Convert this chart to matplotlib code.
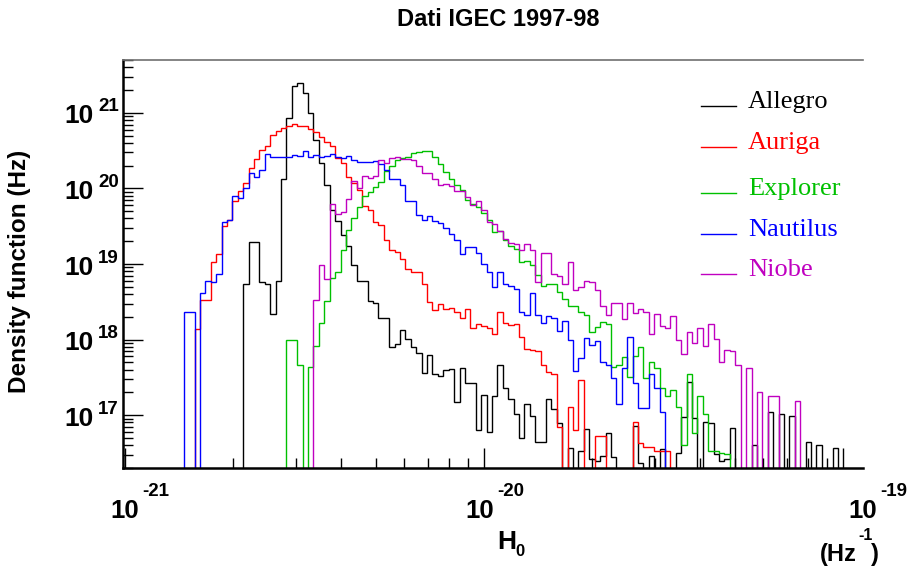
import numpy as np
import matplotlib
matplotlib.use("Agg")
import matplotlib.pyplot as plt
from matplotlib.ticker import LogLocator, NullFormatter

# ---------------- data ----------------
# histogram binning in log10(H0 / Hz^-1)
log_edge0 = -21.0022
log_bin_width = 0.015064
n_bins = 137

# bin contents given as log10(density / Hz); None = empty bin
allegro_start = 22
allegro_log = [18.74, 19.29, 19.29, 18.76, 18.74, 18.34, 18.77, 20.13, 20.93, 21.35,
               21.40, 21.26, 21.00, 20.64, 20.34, 20.05, 19.72, 19.57, 19.39, 19.24,
               18.99, 18.78, 18.78, 18.51, 18.48, 18.29, 18.29, 17.90, 17.94, 18.13,
               18.01, 17.90, 17.82, 17.56, 17.79, 17.54, 17.52, 17.60, 17.61, 17.17,
               17.63, 17.43, 17.43, 16.81, 17.27, 16.78, 17.25, 17.66, 17.36, 17.21,
               17.01, 16.70, 17.15, 16.99, 16.64, 16.64, 17.22, 17.08, 16.89, None,
               16.56, None, 16.53, 16.82, 16.42, 16.40, 16.46, 16.77, 16.44, None,
               None, None, 16.86, 16.37, None, 16.46, None, 16.55, None, None,
               16.50, 16.97, 17.44, 16.96, None, 16.91, 16.90, 16.49, 16.39, 16.42,
               16.83, None, None, None, 16.60, None, None, 17.04, None, 17.01,
               None, 16.99, None, None, 16.64, None, 16.60, None, None, 16.56]

auriga_start = 13
auriga_log = [18.14, 18.52, 18.52, 19.03, 19.13, 19.50, 19.58, 19.83, 19.97, 20.07,
              20.27, 20.39, 20.51, 20.56, 20.71, 20.76, 20.80, 20.82, 20.85, 20.83,
              20.83, 20.78, 20.74, 20.68, 20.62, 20.56, 20.40, 20.34, 20.15, 20.07,
              19.98, 19.77, 19.71, 19.55, 19.52, 19.32, 19.19, 19.16, 19.06, 18.93,
              18.89, 18.89, 18.74, 18.50, 18.39, 18.47, 18.41, 18.42, 18.37, 18.29,
              18.40, 18.15, 18.20, 18.18, 18.15, 18.07, 18.36, 18.22, 18.19, 18.20,
              18.04, 17.88, 17.86, 17.85, 17.66, 17.57, 17.55, 16.85, None, 17.11,
              16.80, 17.47, None, None, 16.72, 16.72, None, None, None, None,
              None, 16.91, 16.63, 16.58, 16.58, 16.53, 16.53, 16.53]

explorer_start = 30
explorer_log = [18.00, 18.00, 17.67, None, 17.64, 17.92, 18.22, 18.51, 18.81, 18.89,
                19.19, 19.45, 19.61, 19.75, 19.90, 19.95, 20.02, 20.09, 20.23, 20.30,
                20.38, 20.40, 20.41, 20.47, 20.48, 20.49, 20.49, 20.42, 20.32, 20.22,
                20.13, 20.05, 19.98, 19.85, 19.80, 19.76, 19.68, 19.58, 19.42, 19.43,
                19.32, 19.24, 19.20, 19.02, 19.04, 18.99, 18.86, 18.71, 18.74, 18.74,
                18.63, 18.54, 18.45, 18.44, 18.36, 18.32, 18.10, 18.16, 18.23, 18.20,
                17.64, 17.66, 17.77, 17.50, 17.78, 17.90, 17.49, 17.70, 17.63, 17.36,
                17.26, 17.33, 17.11, 16.61, 17.55, 16.77, 17.26, 17.02, 16.53, 16.52,
                16.50, 16.48]

nautilus_start = 11
nautilus_log = [18.36, 18.36, None, 18.61, 18.78, 18.76, 18.87, 19.55, 19.58, 19.90,
                19.87, 20.00, 20.20, 20.15, 20.25, 20.46, 20.41, 20.41, 20.42, 20.42,
                20.44, 20.43, 20.49, 20.41, 20.44, 20.42, 20.43, 20.45, 20.41, 20.40,
                20.43, 20.38, 20.35, 20.35, 20.35, 20.36, 20.32, 20.25, 20.13, 20.13,
                20.05, 19.84, 19.83, 19.65, 19.58, 19.63, 19.57, 19.54, 19.47, 19.40,
                19.32, 19.13, 19.22, 19.23, 19.14, 19.00, 18.89, 18.70, 18.89, 18.73,
                18.71, 18.67, 18.37, 18.33, 18.62, 18.33, 18.22, 18.31, 18.29, 18.11,
                18.25, 18.00, 17.58, 17.75, 18.02, 17.93, 17.98, 17.70, 17.67, 17.49,
                17.15, 17.63, 18.04, 17.42, 17.10, 17.10, 17.55, 17.36, 17.04]

niobe_start = 35
niobe_log = [18.53, 18.99, 18.80, 19.80, 19.66, 19.69, 19.86, 20.10, 20.01, 20.16,
             20.14, 20.16, 20.38, 20.34, 20.40, 20.41, 20.39, 20.39, 20.37, 20.30,
             20.21, 20.20, 20.12, 20.05, 20.06, 20.03, 19.97, 19.97, 19.89, 19.78,
             19.83, 19.71, 19.55, 19.53, 19.44, 19.33, 19.28, 19.27, 19.19, 19.26,
             19.18, 18.76, 19.15, 19.15, 18.87, 18.84, 18.73, 19.03, 18.66, 18.70,
             18.77, 18.76, 18.66, 18.44, 18.32, 18.48, 18.48, 18.27, 18.49, 18.35,
             18.40, 18.37, 18.08, 18.34, 18.18, 18.15, 18.31, 18.00, 17.81, 18.10,
             17.96, 18.15, 17.92, 18.20, 18.01, 17.71, 17.86, 17.85, 17.66, None,
             17.63, None, 17.30, None, 17.26, 17.25, None, None, None, 17.19]

detectors = ["Allegro", "Auriga", "Explorer", "Nautilus", "Niobe"]
colors = ["#000000", "#ff0000", "#00c000", "#0000ff", "#c000c0"]
series = [(allegro_start, allegro_log), (auriga_start, auriga_log),
          (explorer_start, explorer_log), (nautilus_start, nautilus_log),
          (niobe_start, niobe_log)]

title = "Dati IGEC 1997-98"
y_decades = [17, 18, 19, 20, 21]
x_decades = [-21, -20, -19]

# ---------------- figure ----------------
W, H = 909, 571
fig = plt.figure(figsize=(W / 100, H / 100), dpi=100)
fig.patch.set_facecolor("white")

def fx(px):
    return px / W

def fy(py):
    return 1 - py / H

ax_l, ax_r, ax_t, ax_b = 123, 863, 60, 468
ax = fig.add_axes([fx(ax_l), fy(ax_b), (ax_r - ax_l) / W, (ax_b - ax_t) / H])
ax.set_xscale("log")
ax.set_yscale("log")

x_lo = 10 ** (-21 + (ax_l - 125) / 359.0)
x_hi = 10 ** (-21 + (ax_r - 125) / 359.0)
ax.set_xlim(x_lo, x_hi)
ax.set_ylim(2e16, 5e21)

edges = 10 ** (log_edge0 + log_bin_width * np.arange(n_bins + 1))
for (start, logs), col in zip(series, colors):
    vals = np.full(n_bins, 1.0)
    for i, v in enumerate(logs):
        if v is not None:
            vals[start + i] = 10 ** v
    ax.stairs(vals, edges, baseline=None, color=col, lw=1.0)

# axes frame
ax.spines["right"].set_visible(False)
ax.spines["top"].set_color("#707070")
ax.spines["top"].set_linewidth(1.2)
ax.spines["left"].set_linewidth(1.8)
ax.spines["bottom"].set_linewidth(1.8)

ax.xaxis.set_major_locator(LogLocator(base=10, numticks=20))
ax.xaxis.set_minor_locator(LogLocator(base=10, subs=np.arange(2, 10), numticks=50))
ax.yaxis.set_major_locator(LogLocator(base=10, numticks=20))
ax.yaxis.set_minor_locator(LogLocator(base=10, subs=np.arange(2, 10), numticks=50))
ax.xaxis.set_minor_formatter(NullFormatter())
ax.yaxis.set_minor_formatter(NullFormatter())
ax.tick_params(axis="both", which="major", direction="in", length=14.5, width=1.0,
               labelbottom=False, labelleft=False, top=False, right=False)
ax.tick_params(axis="both", which="minor", direction="in", length=7.5, width=1.0,
               top=False, right=False)

font = "Liberation Sans"
# y tick labels
for d in y_decades:
    py = 112.7 + (21 - d) * 75.75
    fig.text(fx(94), fy(py + 3.5), "10", ha="right", va="center", fontsize=19,
             fontweight="bold", family=font)
    fig.text(fx(98), fy(py - 6), str(d), ha="left", va="center", fontsize=13.5,
             fontweight="bold", family=font)

# x tick labels
x_ten_pos = {-21: 125, -20: 480, -19: 863}
for d in x_decades:
    px = x_ten_pos[d]
    fig.text(fx(px), fy(511), "10", ha="center", va="center", fontsize=18.5,
             fontweight="bold", family=font)
    fig.text(fx(px + 17), fy(491), str(d), ha="left", va="center", fontsize=13.5,
             fontweight="bold", family=font)

# axis titles
fig.text(fx(498), fy(19), title, ha="center", va="center", fontsize=17,
         fontweight="bold", family=font)
fig.text(fx(20), fy(271), "Density function (Hz)", ha="center", va="center",
         rotation=90, fontsize=17.5, fontweight="bold", family=font)
fig.text(fx(497), fy(542), "H", ha="left", va="center", fontsize=19,
         fontweight="bold", family=font)
fig.text(fx(515), fy(551), "0", ha="left", va="center", fontsize=12,
         fontweight="bold", family=font)
fig.text(fx(820), fy(555), "(Hz", ha="left", va="center", fontsize=17,
         fontweight="bold", family=font)
fig.text(fx(858), fy(535), "-1", ha="left", va="center", fontsize=11.5,
         fontweight="bold", family=font)
fig.text(fx(871), fy(555), ")", ha="left", va="center", fontsize=17,
         fontweight="bold", family=font)

# legend
leg_y = [105.7, 147.3, 192.7, 234.0, 274.0]
for name, col, py in zip(detectors, colors, leg_y):
    fig.add_artist(plt.Line2D([fx(701), fx(736)], [fy(py), fy(py)], color=col, lw=1.0))
    fig.text(fx(748), fy(py + 2), name, ha="left", va="baseline", fontsize=19,
             color=col, family="Liberation Serif")

fig.savefig("out.png", dpi=100, facecolor="white")
